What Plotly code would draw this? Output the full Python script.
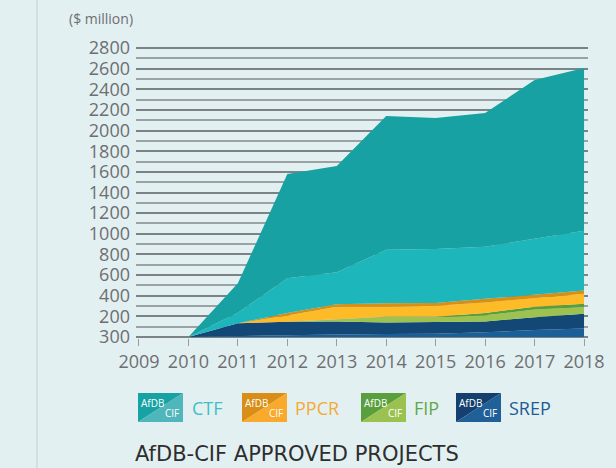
import plotly.graph_objects as go

years = [2010, 2011, 2012, 2013, 2014, 2015, 2016, 2017, 2018]

srep_cif = [0, 10, 20, 25, 28, 30, 45, 68, 82]
srep_afdb = [0, 123, 127, 125, 112, 112, 105, 123, 143]
fip_cif = [0, 0, 0, 20, 50, 50, 60, 74, 63]
fip_afdb = [0, 0, 0, 0, 5, 4, 23, 27, 33]
ppcr_cif = [0, 0, 61, 122, 99, 106, 102, 86, 97]
ppcr_afdb = [0, 0, 24, 26, 32, 28, 35, 32, 32]
ctf_cif = [0, 102, 337, 309, 519, 523, 505, 546, 580]
ctf_afdb = [0, 285, 1011, 1030, 1296, 1269, 1295, 1534, 1577]

x_ticks = [2009, 2010, 2011, 2012, 2013, 2014, 2015, 2016, 2017, 2018]
y_tickvals = [0, 200, 400, 600, 800, 1000, 1200, 1400, 1600, 1800, 2000, 2200, 2400, 2600, 2800]
y_ticktext = ["300", "200", "400", "600", "800", "1000", "1200", "1400", "1600", "1800",
              "2000", "2200", "2400", "2600", "2800"]
y_minor = [100, 300, 500, 700, 900, 1100, 1300, 1500, 1700, 1900, 2100, 2300, 2500, 2700]

series = [
    ("SREP CIF", srep_cif, "#1b5f98"),
    ("SREP AfDB", srep_afdb, "#134776"),
    ("FIP CIF", fip_cif, "#9cc24f"),
    ("FIP AfDB", fip_afdb, "#5a9e3b"),
    ("PPCR CIF", ppcr_cif, "#fdbb27"),
    ("PPCR AfDB", ppcr_afdb, "#d98e14"),
    ("CTF CIF", ctf_cif, "#1db6bb"),
    ("CTF AfDB", ctf_afdb, "#17a1a2"),
]

legend_items = [
    ("CTF", "#17a2a3", "#4fb6bb", "#3dbfc5", 138, 190),
    ("PPCR", "#d98e17", "#f9a92c", "#f6aa33", 242, 293),
    ("FIP", "#5a9f3d", "#9bc250", "#5fa846", 361, 412),
    ("SREP", "#143f6e", "#1f6099", "#1d5b95", 456, 507),
]

W, H = 616, 468
L, R, T, B = 136, 28, 47, 130
PW, PH = W - L - R, H - T - B


def px(x):
    return (x - L) / PW


def py(y):
    return (H - B - y) / PH


FONT = "Open Sans"
GRAY = "#6d6e71"

fig = go.Figure()
for name, vals, color in series:
    fig.add_trace(go.Scatter(
        x=years, y=vals, name=name, mode="lines", stackgroup="one",
        line=dict(width=0, color=color), fillcolor=color, showlegend=False,
        hoverinfo="skip",
    ))

shapes = [
    dict(type="line", xref="paper", yref="paper", x0=px(37), x1=px(37), y0=py(0), y1=py(H),
         line=dict(color="#c5cfd2", width=1)),
]
annotations = [
    dict(text="($ million)", xref="paper", yref="paper", x=px(67), y=py(19),
         xanchor="left", yanchor="middle", showarrow=False,
         font=dict(family=FONT, size=14, color=GRAY)),
    dict(text="AfDB-CIF APPROVED PROJECTS", xref="paper", yref="paper", x=px(133), y=py(454),
         xanchor="left", yanchor="middle", showarrow=False,
         font=dict(family="DejaVu Sans", size=21, color="#2e2e2e")),
]

ITOP, IBOT, IW = 393, 422, 45
for label, dark, light, tcol, x0, tx in legend_items:
    x1 = x0 + IW
    a, b = px(x0), px(x1)
    t, bt = py(ITOP), py(IBOT)
    shapes.append(dict(type="path", xref="paper", yref="paper",
                       path=f"M {a} {t} L {b} {t} L {a} {bt} Z",
                       fillcolor=dark, line=dict(width=0)))
    shapes.append(dict(type="path", xref="paper", yref="paper",
                       path=f"M {b} {t} L {b} {bt} L {a} {bt} Z",
                       fillcolor=light, line=dict(width=0)))
    annotations.append(dict(text="AfDB", xref="paper", yref="paper", x=px(x0 + 1), y=py(ITOP + 1),
                            xanchor="left", yanchor="top", showarrow=False,
                            font=dict(family=FONT, size=10, color="white")))
    annotations.append(dict(text="CIF", xref="paper", yref="paper", x=px(x1 - 2), y=py(IBOT),
                            xanchor="right", yanchor="bottom", showarrow=False,
                            font=dict(family=FONT, size=10, color="white")))
    annotations.append(dict(text=label, xref="paper", yref="paper", x=px(tx), y=py(408),
                            xanchor="left", yanchor="middle", showarrow=False,
                            font=dict(family=FONT, size=18, color=tcol)))

fig.update_layout(
    width=W, height=H,
    margin=dict(l=L, r=R, t=T, b=B, pad=0),
    paper_bgcolor="#e3f0f1", plot_bgcolor="#e3f0f1",
    shapes=shapes, annotations=annotations,
    xaxis=dict(range=[2008.94, 2018.08], tickmode="array", tickvals=x_ticks,
               ticktext=[str(v) for v in x_ticks], showgrid=False, zeroline=False,
               showline=False, ticks="outside", ticklen=7, tickwidth=1, tickcolor="#9a9c9e",
               tickfont=dict(family=FONT, size=18, color=GRAY), fixedrange=True,
               automargin=False),
    yaxis=dict(range=[-10, 2810], tickmode="array", tickvals=y_tickvals, ticktext=y_ticktext,
               showgrid=True, gridcolor="#7c8387", gridwidth=1.5, zeroline=False, showline=False,
               ticks="", ticklabelstandoff=5,
               tickfont=dict(family=FONT, size=18, color=GRAY),
               minor=dict(tickmode="array", tickvals=y_minor, showgrid=True,
                          gridcolor="#9ba2a5", gridwidth=1.5, ticks=""),
               fixedrange=True, automargin=False),
)

fig.write_html("out.html", config={"displayModeBar": False},
               post_script="document.body.style.margin='0';document.body.style.background='#e3f0f1';")
